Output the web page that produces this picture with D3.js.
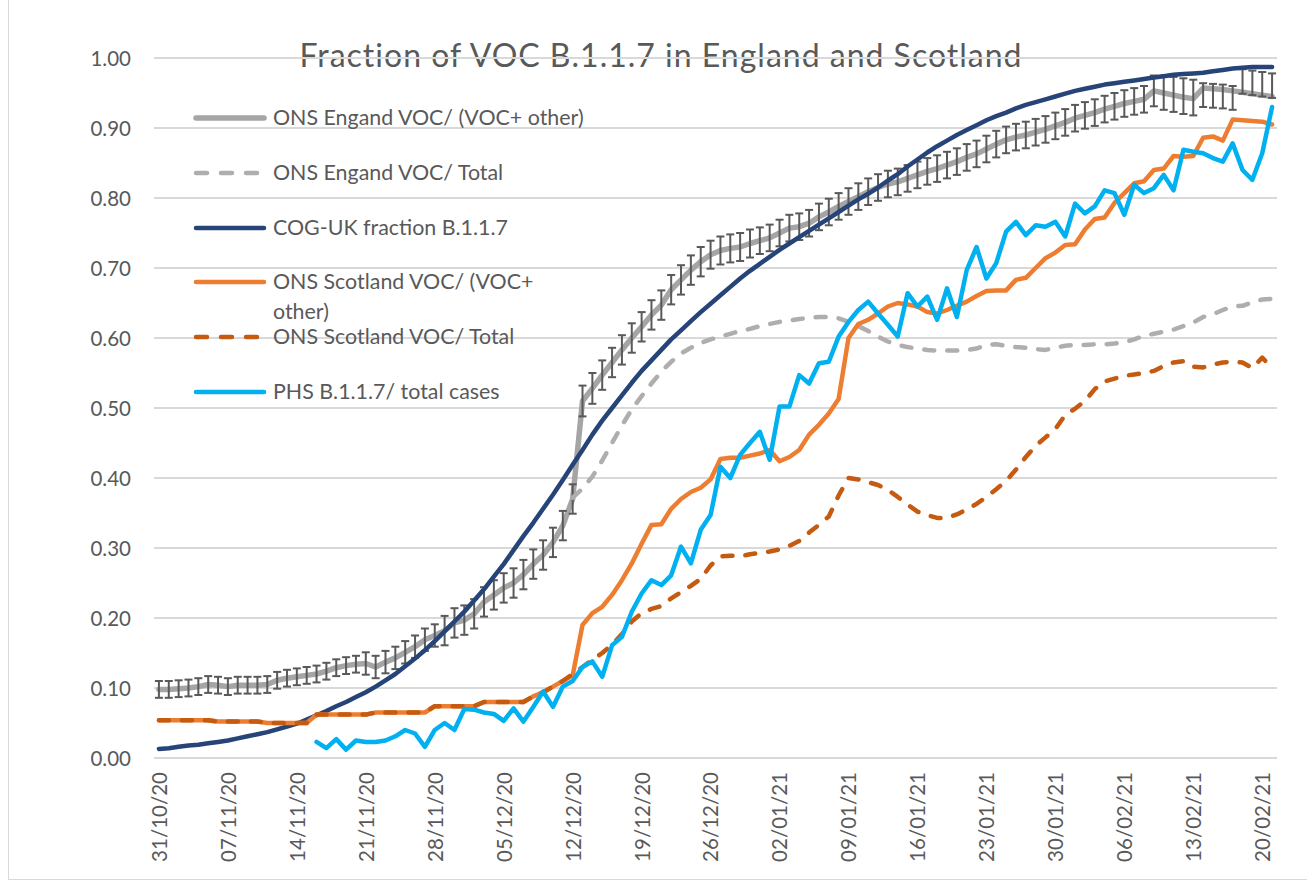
<!DOCTYPE html>
<html><head><meta charset="utf-8">
<script src="https://cdn.jsdelivr.net/npm/d3@7"></script>
<style>body{margin:0;background:#fff;} svg{display:block;}</style>
</head><body>
<svg id="chart" width="1307" height="881"></svg>
<script>
// ---- data ----
const firstDay = "2020-10-31";
const lastDay = "2021-02-21";
const tickLabels = ["31/10/20","07/11/20","14/11/20","21/11/20","28/11/20","05/12/20","12/12/20","19/12/20","26/12/20","02/01/21","09/01/21","16/01/21","23/01/21","30/01/21","06/02/21","13/02/21","20/02/21"];
const yTicks = [0,0.1,0.2,0.3,0.4,0.5,0.6,0.7,0.8,0.9,1.0];
const titleText = "Fraction of VOC B.1.1.7  in England and Scotland";

const onsEnglandVocOther = [
0.098,0.098,0.099,0.100,0.102,0.105,0.104,0.102,0.104,0.104,
0.104,0.105,0.111,0.114,0.116,0.118,0.120,0.124,0.129,0.132,
0.134,0.135,0.130,0.137,0.143,0.151,0.159,0.169,0.175,0.182,
0.193,0.197,0.206,0.223,0.233,0.243,0.250,0.262,0.277,0.290,
0.308,0.332,0.370,0.510,0.528,0.547,0.565,0.583,0.600,0.616,
0.633,0.647,0.669,0.683,0.697,0.709,0.719,0.725,0.728,0.730,
0.735,0.739,0.743,0.750,0.757,0.759,0.764,0.773,0.780,0.788,
0.795,0.802,0.809,0.815,0.820,0.823,0.828,0.833,0.838,0.842,
0.847,0.852,0.858,0.863,0.870,0.877,0.883,0.887,0.890,0.894,
0.898,0.903,0.908,0.914,0.918,0.922,0.927,0.931,0.935,0.938,
0.941,0.953,0.950,0.947,0.944,0.942,0.957,0.956,0.955,0.953,
0.951,0.949,0.947,0.945];

const onsEnglandErrUp = [
0.012,0.012,0.012,0.012,0.012,0.012,0.012,0.012,0.012,0.012,
0.012,0.012,0.012,0.012,0.012,0.012,0.012,0.012,0.012,0.012,
0.012,0.016,0.016,0.016,0.016,0.016,0.016,0.016,0.016,0.021,
0.021,0.021,0.021,0.021,0.021,0.021,0.021,0.021,0.021,0.021,
0.021,0.021,0.021,0.022,0.022,0.021,0.021,0.021,0.021,0.021,
0.021,0.021,0.021,0.021,0.021,0.021,0.020,0.020,0.020,0.020,
0.020,0.019,0.019,0.019,0.019,0.019,0.019,0.019,0.019,0.019,
0.019,0.019,0.019,0.019,0.019,0.019,0.019,0.019,0.019,0.019,
0.019,0.019,0.019,0.019,0.019,0.019,0.019,0.019,0.019,0.019,
0.019,0.019,0.019,0.019,0.019,0.019,0.019,0.019,0.019,0.019,
0.019,0.022,0.025,0.026,0.027,0.027,0.007,0.007,0.007,0.007,
0.033,0.033,0.033,0.033];

const onsEnglandErrDown = [
0.012,0.012,0.012,0.012,0.012,0.012,0.012,0.012,0.012,0.012,
0.012,0.012,0.012,0.012,0.012,0.012,0.012,0.012,0.012,0.012,
0.012,0.016,0.016,0.016,0.016,0.016,0.016,0.016,0.016,0.021,
0.021,0.021,0.021,0.021,0.021,0.021,0.021,0.021,0.021,0.021,
0.021,0.021,0.021,0.022,0.022,0.021,0.021,0.021,0.021,0.021,
0.021,0.021,0.021,0.021,0.021,0.021,0.020,0.020,0.020,0.020,
0.020,0.019,0.019,0.019,0.019,0.019,0.019,0.019,0.019,0.019,
0.019,0.019,0.019,0.019,0.019,0.019,0.019,0.019,0.019,0.019,
0.019,0.019,0.019,0.019,0.019,0.019,0.019,0.019,0.019,0.019,
0.019,0.019,0.019,0.019,0.019,0.019,0.019,0.019,0.019,0.019,
0.019,0.022,0.024,0.024,0.024,0.024,0.027,0.027,0.027,0.027,
0.002,0.002,0.002,0.002];

const onsEnglandVocTotal = [
null,null,null,null,null,null,null,null,null,null,
null,null,null,null,null,null,null,null,null,null,
null,null,null,null,null,null,null,null,null,null,
null,null,null,null,null,null,null,null,null,null,
null,null,0.372,0.385,0.402,0.425,0.450,0.475,0.498,0.517,
0.535,0.552,0.566,0.578,0.586,0.593,0.598,0.602,0.606,0.610,
0.613,0.617,0.620,0.623,0.625,0.627,0.629,0.630,0.630,0.628,
0.623,0.617,0.610,0.602,0.595,0.590,0.587,0.585,0.583,0.582,
0.582,0.582,0.583,0.585,0.590,0.591,0.589,0.587,0.586,0.584,
0.583,0.586,0.589,0.590,0.590,0.591,0.591,0.592,0.594,0.598,
0.603,0.606,0.609,0.612,0.617,0.622,0.630,0.634,0.640,0.645,
0.646,0.651,0.655,0.656];

const cogUkFraction = [
0.013,0.014,0.016,0.018,0.019,0.021,0.023,0.025,0.028,0.031,
0.034,0.037,0.041,0.045,0.049,0.055,0.061,0.067,0.074,0.080,
0.087,0.094,0.102,0.111,0.120,0.131,0.142,0.154,0.167,0.181,
0.195,0.209,0.225,0.241,0.259,0.277,0.297,0.317,0.336,0.356,
0.376,0.397,0.419,0.440,0.462,0.482,0.500,0.518,0.536,0.553,
0.568,0.583,0.598,0.611,0.624,0.637,0.649,0.661,0.673,0.685,
0.696,0.706,0.716,0.726,0.735,0.744,0.753,0.762,0.771,0.780,
0.789,0.798,0.806,0.815,0.825,0.834,0.845,0.855,0.865,0.874,
0.882,0.890,0.897,0.904,0.911,0.917,0.922,0.928,0.933,0.937,
0.941,0.945,0.949,0.953,0.956,0.959,0.962,0.964,0.966,0.968,
0.970,0.972,0.974,0.976,0.977,0.978,0.979,0.981,0.983,0.985,
0.986,0.987,0.987,0.987];

const onsScotlandVocOther = [
0.054,0.054,0.054,0.054,0.054,0.054,0.052,0.052,0.052,0.052,
0.052,0.050,0.050,0.050,0.050,0.050,0.062,0.062,0.062,0.062,
0.062,0.062,0.065,0.065,0.065,0.065,0.065,0.065,0.074,0.074,
0.074,0.074,0.074,0.080,0.080,0.080,0.080,0.080,0.088,0.094,
0.102,0.110,0.118,0.190,0.207,0.216,0.233,0.254,0.278,0.306,
0.333,0.334,0.356,0.370,0.380,0.386,0.398,0.427,0.429,0.429,
0.432,0.435,0.440,0.424,0.430,0.440,0.462,0.476,0.492,0.513,
0.600,0.620,0.626,0.635,0.645,0.650,0.648,0.645,0.637,0.635,
0.640,0.646,0.652,0.660,0.667,0.668,0.668,0.683,0.686,0.700,
0.714,0.722,0.733,0.734,0.755,0.770,0.772,0.793,0.807,0.821,
0.824,0.840,0.842,0.860,0.859,0.860,0.886,0.888,0.882,0.912,
0.911,0.910,0.909,0.905];

const onsScotlandVocTotal = [
0.054,0.054,0.054,0.054,0.054,0.054,0.052,0.052,0.052,0.052,
0.052,0.050,0.050,0.050,0.050,0.050,0.062,0.062,0.062,0.062,
0.062,0.062,0.065,0.065,0.065,0.065,0.065,0.065,0.074,0.074,
0.074,0.074,0.074,0.080,0.080,0.080,0.080,0.080,0.088,0.094,
0.102,0.110,0.120,0.130,0.140,0.150,0.162,0.177,0.195,0.207,
0.213,0.217,0.228,0.237,0.246,0.256,0.275,0.288,0.289,0.288,
0.291,0.293,0.295,0.298,0.303,0.310,0.322,0.333,0.345,0.375,
0.400,0.398,0.394,0.390,0.383,0.373,0.362,0.352,0.347,0.343,
0.343,0.348,0.355,0.363,0.373,0.384,0.396,0.412,0.430,0.446,
0.458,0.470,0.490,0.499,0.510,0.527,0.538,0.542,0.546,0.548,
0.550,0.553,0.560,0.565,0.567,0.559,0.558,0.562,0.565,0.566,
0.565,0.557,0.572,0.557];

const phsTotalCases = [
null,null,null,null,null,null,null,null,null,null,
null,null,null,null,null,null,0.023,0.014,0.027,0.012,
0.025,0.023,0.023,0.025,0.031,0.040,0.035,0.016,0.040,0.050,
0.040,0.070,0.069,0.065,0.063,0.053,0.071,0.052,0.073,0.095,
0.073,0.102,0.110,0.130,0.138,0.116,0.161,0.173,0.209,0.235,
0.254,0.247,0.261,0.302,0.278,0.326,0.347,0.416,0.400,0.433,
0.450,0.466,0.426,0.502,0.502,0.547,0.535,0.564,0.566,0.602,
0.623,0.640,0.652,0.635,0.619,0.602,0.664,0.645,0.659,0.626,
0.671,0.630,0.697,0.730,0.685,0.707,0.752,0.766,0.747,0.761,
0.759,0.766,0.745,0.792,0.778,0.788,0.811,0.807,0.776,0.819,
0.807,0.814,0.833,0.811,0.869,0.866,0.864,0.857,0.852,0.878,
0.840,0.826,0.864,0.930];

const seriesNames = ["ONS Engand VOC/ (VOC+ other)","ONS Engand VOC/ Total","COG-UK fraction B.1.1.7","ONS Scotland VOC/ (VOC+ other)","ONS Scotland VOC/ Total","PHS B.1.1.7/ total cases"];

// ---- chart ----
const FONT = "Lato, 'Open Sans', sans-serif";
const TXT = "#595959";
const svg = d3.select("#chart");
svg.append("rect").attr("x",0).attr("y",0).attr("width",1307).attr("height",881).attr("fill","#fff");
svg.append("rect").attr("x",8.5).attr("y",-2).attr("width",1305).attr("height",881.5)
   .attr("fill","none").attr("stroke","#d9d9d9").attr("stroke-width",1);

const parse = d3.timeParse("%Y-%m-%d");
const fmt = d3.timeFormat("%d/%m/%y");
const days = d3.timeDay.range(parse(firstDay), d3.timeDay.offset(parse(lastDay),1)).map(fmt);

const x = d3.scalePoint().domain(days).range([154,1277]).padding(0.5);
const y = d3.scaleLinear().domain([0,1]).range([758,58]);

// title (under gridlines as in the reference)
svg.append("text").attr("x",661).attr("y",67).attr("text-anchor","middle")
  .attr("font-family",FONT).attr("font-size",32).attr("letter-spacing","1px").attr("fill",TXT).text(titleText);

// gridlines
svg.append("g").selectAll("line").data(yTicks).join("line")
  .attr("x1",154).attr("x2",1277).attr("y1",d=>y(d)).attr("y2",d=>y(d))
  .attr("stroke","#d9d9d9").attr("stroke-width",2);

// y axis labels
const yAxis = d3.axisLeft(y).tickValues(yTicks).tickFormat(d3.format(".2f")).tickSize(0).tickPadding(0);
const gy = svg.append("g").attr("transform","translate(131,0)").call(yAxis);
gy.select(".domain").remove();
gy.selectAll("text").attr("font-family",FONT).attr("font-size",20.5).attr("fill",TXT).attr("dy","0.35em");

// x axis labels
const xAxis = d3.axisBottom(x).tickValues(tickLabels).tickSize(0).tickPadding(0);
const gx = svg.append("g").attr("transform","translate(0,772)").call(xAxis);
gx.select(".domain").remove();
gx.selectAll("text").attr("font-family",FONT).attr("font-size",20.5).attr("fill",TXT)
  .attr("transform","rotate(-90)").attr("text-anchor","end").attr("x",0).attr("y",0).attr("dy","0.36em");

const line = d3.line().defined(d=>d.v!=null).x(d=>x(d.c)).y(d=>y(d.v));
const pts = arr => arr.map((v,i)=>({c:days[i], v:v}));

const styles = [
  {data:onsEnglandVocOther, color:"#a5a5a5", w:5.5, dash:null},
  {data:onsEnglandVocTotal, color:"#b0adad", w:4.5, dash:"10,13"},
  {data:cogUkFraction, color:"#264478", w:4.5, dash:null},
  {data:onsScotlandVocOther, color:"#ed7d31", w:4.5, dash:null},
  {data:onsScotlandVocTotal, color:"#c55a11", w:4.5, dash:"10,13"},
  {data:phsTotalCases, color:"#00b0f0", w:4.5, dash:null}
];

styles.forEach((s,k)=>{
  svg.append("path").datum(pts(s.data)).attr("d",line)
    .attr("fill","none").attr("stroke",s.color).attr("stroke-width",s.w)
    .attr("stroke-linejoin","round").attr("stroke-linecap","round")
    .attr("stroke-dasharray",s.dash);
  if(k===0){
    const eb = svg.append("g").attr("stroke","#595959").attr("stroke-width",2);
    const ed = onsEnglandVocOther.map((v,i)=>({c:days[i],v:v,hi:v+onsEnglandErrUp[i],lo:v-onsEnglandErrDown[i]}));
    eb.selectAll("line.v").data(ed).join("line").attr("class","v")
      .attr("x1",d=>x(d.c)).attr("x2",d=>x(d.c)).attr("y1",d=>y(d.hi)).attr("y2",d=>y(d.lo));
    eb.selectAll("line.t").data(ed).join("line").attr("class","t")
      .attr("x1",d=>x(d.c)-4).attr("x2",d=>x(d.c)+4).attr("y1",d=>y(d.hi)).attr("y2",d=>y(d.hi));
    eb.selectAll("line.b").data(ed).join("line").attr("class","b")
      .attr("x1",d=>x(d.c)-4).attr("x2",d=>x(d.c)+4).attr("y1",d=>y(d.lo)).attr("y2",d=>y(d.lo));
  }
});

// legend
const legendY = [118,173,228,282,337,392];
const LFS = 21.4;
const lg = svg.append("g");
styles.forEach((s,k)=>{
  lg.append("line").attr("x1",196).attr("x2",264).attr("y1",legendY[k]).attr("y2",legendY[k])
    .attr("stroke",s.color).attr("stroke-width",s.w).attr("stroke-linecap","round")
    .attr("stroke-dasharray",s.dash?"11,14":null);
  const t = lg.append("text").attr("x",273).attr("y",legendY[k]).attr("dy","0.35em")
    .attr("font-family",FONT).attr("font-size",LFS).attr("fill",TXT);
  if(k===3){
    t.text("ONS Scotland VOC/ (VOC+");
    lg.append("text").attr("x",273).attr("y",legendY[k]+30).attr("dy","0.35em")
      .attr("font-family",FONT).attr("font-size",LFS).attr("fill",TXT).text("other)");
  } else t.text(seriesNames[k]);
});
</script>
</body></html>
